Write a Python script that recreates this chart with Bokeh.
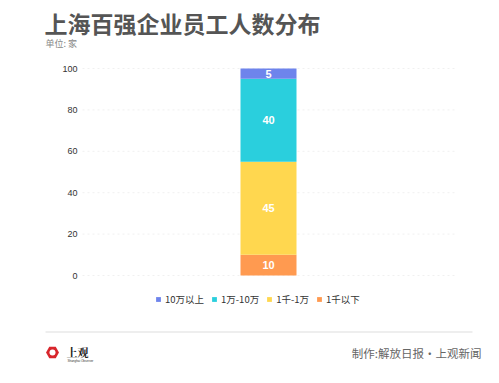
from bokeh.plotting import figure
from bokeh.core.properties import value
from bokeh.models import (ColumnDataSource, LabelSet, Label, Legend, LegendItem,
                          Range1d, LinearAxis, FixedTicker)
from bokeh.embed import file_html
from bokeh.resources import INLINE

# ---- data ----
category = ["上海百强企业"]
series = ["1千以下", "1千-1万", "1万-10万", "10万以上"]          # bottom -> top
values = [10, 45, 40, 5]
colors = ["#FF9A50", "#FFD74F", "#2ACFDD", "#6E84EC"]
legend_order = ["10万以上", "1万-10万", "1千-1万", "1千以下"]
y_ticks = [0, 20, 40, 60, 80, 100]

FONT = "Noto Sans CJK SC"
W, H = 499, 383

# ---- layout constants (page pixels) ----
Y0_PX, Y100_PX = 275, 68          # value 0 / 100
BAR_CX, BAR_W = 268, 56

unit = (Y0_PX - Y100_PX) / 100.0
by_start = -(H - Y0_PX) / unit
by_end = by_start + H / unit
bx_start = -BAR_CX / BAR_W
bx_end = bx_start + W / BAR_W

p = figure(width=W, height=H, output_backend="svg", toolbar_location=None,
           x_range=Range1d(0, W), y_range=Range1d(H, 0), min_border=0)
p.outline_line_color = None
p.axis.visible = False
p.grid.visible = False
p.extra_x_ranges = {"bx": Range1d(bx_start, bx_end)}
p.extra_y_ranges = {"by": Range1d(by_start, by_end)}

data = {"x": list(range(len(category)))}
for s, v in zip(series, values):
    data[s] = [v]
src = ColumnDataSource(data)

# grid lines on the value scale
p.segment(x0=82, x1=456, y0=y_ticks, y1=y_ticks, y_range_name="by",
          line_color="#f0f0f0", line_dash="2 3", line_width=1)

rs = p.vbar_stack(series, x="x", width=1, color=colors, source=src,
                  line_color=None, x_range_name="bx", y_range_name="by")

# y axis drawn inside the frame
yax = LinearAxis(y_range_name="by", fixed_location=85,
                 ticker=FixedTicker(ticks=y_ticks))
yax.axis_line_color = None
yax.major_tick_line_color = None
yax.minor_tick_line_color = None
yax.major_label_text_font_size = "9px"
yax.major_label_text_color = "#333333"
yax.major_label_text_font = "Liberation Sans"
yax.major_label_standoff = 2
p.add_layout(yax, "left")

# value labels at segment midpoints
mids, acc = [], 0
for v in values:
    mids.append(acc + v / 2)
    acc += v
lab_src = ColumnDataSource(dict(x=[0] * len(values), y=mids,
                                text=[str(v) for v in values]))
p.add_layout(LabelSet(x="x", y="y", text="text", source=lab_src,
                      x_range_name="bx", y_range_name="by",
                      text_align="center", text_baseline="middle",
                      text_color="white", text_font_size="11px",
                      text_font_style="bold",
                      text_font=value("Liberation Sans")))

# legend
name_to_r = dict(zip(series, rs))
items = [LegendItem(label=n, renderers=[name_to_r[n]]) for n in legend_order]
leg = Legend(items=items, orientation="horizontal", location=(155, H - 306),
             glyph_width=6, glyph_height=6, label_text_font_size="9.5px",
             label_text_font=FONT, label_text_color="#333333",
             label_standoff=4, spacing=7, padding=0, margin=0,
             border_line_color=None, background_fill_alpha=0)
p.add_layout(leg)

# title / subtitle
p.add_layout(Label(x=44, y=5, text="上海百强企业员工人数分布", text_font=FONT,
                   text_font_size="23px", text_font_style="bold",
                   text_color="#555555", text_baseline="top"))
p.add_layout(Label(x=45, y=36, text="单位: 家", text_font=FONT,
                   text_font_size="9px", text_color="#888888",
                   text_baseline="top"))

# footer line
p.segment(x0=[45], x1=[472], y0=[331.5], y1=[331.5], line_color="#dddddd",
          line_width=1)

# logo
p.scatter(x=[52], y=[352], marker="hex", size=13, fill_color="#D8262C",
          line_color=None)
p.scatter(x=[52], y=[352], marker="circle", size=6, fill_color="white",
          line_color=None)
p.add_layout(Label(x=66, y=351, text="上观", text_font="Noto Serif CJK SC",
                   text_font_size="11px", text_font_style="bold",
                   text_color="#222222", text_baseline="middle"))
p.add_layout(Label(x=67, y=360.5, text="Shanghai Observer",
                   text_font="Liberation Sans", text_font_size="3px",
                   text_color="#333333", text_baseline="middle"))

# credit
p.add_layout(Label(x=481, y=352, text="制作:解放日报·上观新闻", text_font=FONT,
                   text_font_size="11.5px", text_color="#666666",
                   text_align="right", text_baseline="middle"))

open("out.html", "w").write(file_html(p, INLINE))
